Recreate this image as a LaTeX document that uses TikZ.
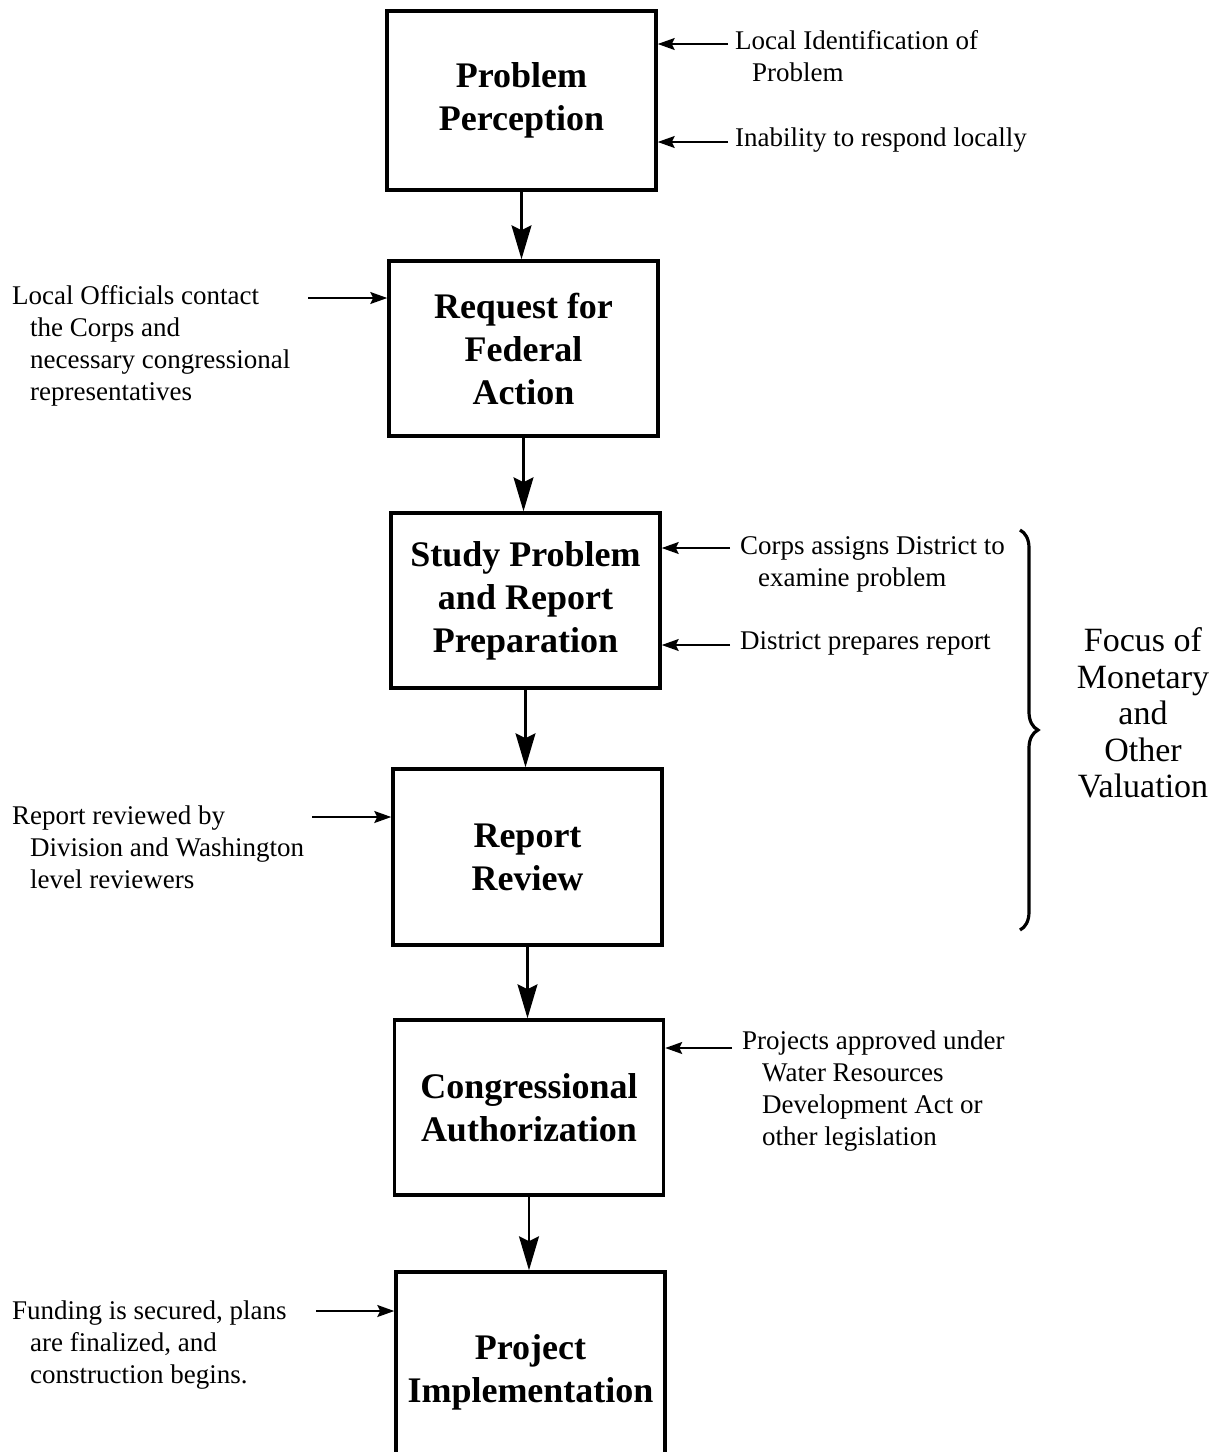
\documentclass[tikz,border=0pt]{standalone}
\usepackage{fontspec}
\setmainfont{Liberation Serif}
\usetikzlibrary{arrows.meta,decorations.pathreplacing}
\begin{document}
\begin{tikzpicture}[x=1pt,y=-1pt,
 box/.style={draw, line width=3.5pt, minimum width=269pt, inner sep=0pt,
   font=\fontsize{36}{43}\selectfont\bfseries, align=center},
 lab/.style={font=\fontsize{27}{32}\selectfont, align=left, anchor=base west, inner sep=0pt},
 focus/.style={font=\fontsize{34}{36.5}\selectfont, align=center, inner sep=0pt},
 varrow/.style={line width=2.2pt, -{Stealth[length=34pt,width=20pt,inset=5pt]}},
 sarrow/.style={line width=1.8pt, -{Stealth[length=17pt,width=12pt,inset=3pt]}},
 bracestyle/.style={line width=3.2pt, decorate, decoration={brace, amplitude=18pt}},
]
\clip (0,0) rectangle (1219,1452);
\fill[white] (0,0) rectangle (1219,1452);

% boxes
\node[box, minimum height=179pt] (b1) at (521.5,100.5) {Problem\\Perception};
\node[box, minimum height=175pt] (b2) at (523.5,348.5) {Request for\\Federal\\Action};
\node[box, minimum height=175pt] (b3) at (525.5,600.5) {Study Problem\\and Report\\Preparation};
\node[box, minimum height=176pt] (b4) at (527.5,857) {Report\\Review};
\node[box, minimum height=175pt] (b5) at (529,1107.5) {Congressional\\Authorization};
\node[box, minimum height=200pt] (b6) at (530.5,1372) {Project\\Implementation};

% vertical connectors
\draw[varrow] (b1.south) -- (b1.south |- b2.north);
\draw[varrow] (b2.south) -- (b2.south |- b3.north);
\draw[varrow] (b3.south) -- (b3.south |- b4.north);
\draw[varrow] (b4.south) -- (b4.south |- b5.north);
\draw[varrow] (b5.south) -- (b5.south |- b6.north);

% labels (anchored at the baseline of the last line)
\node[lab] (l1) at (735,81) {Local Identification of\\\hspace*{17pt}Problem};
\node[lab] (l2) at (735,146) {Inability to respond locally};
\node[lab] (l3) at (12,400) {Local Officials contact\\\hspace*{18pt}the Corps and\\\hspace*{18pt}necessary congressional\\\hspace*{18pt}representatives};
\node[lab] (l4) at (740,586) {Corps assigns District to\\\hspace*{18pt}examine problem};
\node[lab] (l5) at (740,649) {District prepares report};
\node[lab] (l6) at (12,888) {Report reviewed by\\\hspace*{18pt}Division and Washington\\\hspace*{18pt}level reviewers};
\node[lab] (l7) at (742,1145) {Projects approved under\\\hspace*{20pt}Water Resources\\\hspace*{20pt}Development Act or\\\hspace*{20pt}other legislation};
\node[lab] (l8) at (12,1383) {Funding is secured, plans\\\hspace*{18pt}are finalized, and\\\hspace*{18pt}construction begins.};

% side arrow start points
\coordinate (s1) at (728,44);
\coordinate (s2) at (728,142);
\coordinate (s3) at (308,298);
\coordinate (s4) at (730,548);
\coordinate (s5) at (730,645);
\coordinate (s6) at (312,817);
\coordinate (s7) at (732,1048);
\coordinate (s8) at (316,1311);

\draw[sarrow] (s1) -- (s1 -| b1.east);
\draw[sarrow] (s2) -- (s2 -| b1.east);
\draw[sarrow] (s3) -- (s3 -| b2.west);
\draw[sarrow] (s4) -- (s4 -| b3.east);
\draw[sarrow] (s5) -- (s5 -| b3.east);
\draw[sarrow] (s6) -- (s6 -| b4.west);
\draw[sarrow] (s7) -- (s7 -| b5.east);
\draw[sarrow] (s8) -- (s8 -| b6.west);

% brace and focus text
\coordinate (bt) at (1020,530);
\coordinate (bb) at (1020,930);
\draw[bracestyle] (bt) -- (bb);
\node[focus] (f) at (1143,713) {Focus of\\Monetary\\and\\Other\\Valuation};
\end{tikzpicture}
\end{document}
